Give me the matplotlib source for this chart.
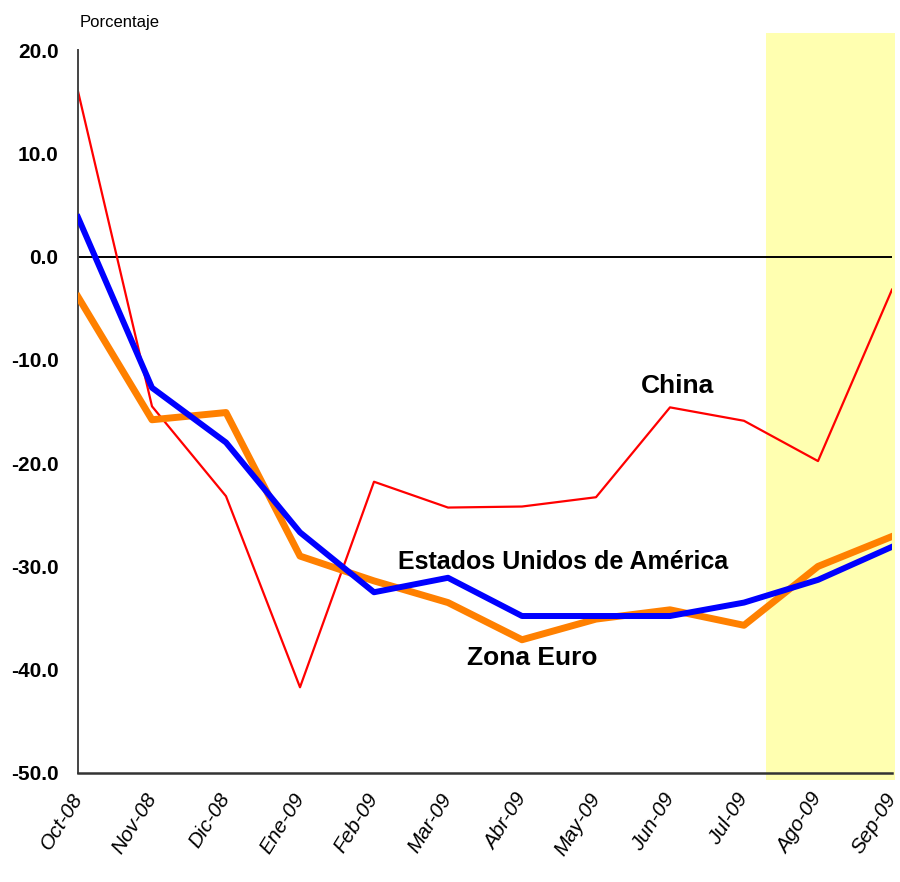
import matplotlib
matplotlib.use("Agg")
import matplotlib.pyplot as plt
from matplotlib.patches import Rectangle
from matplotlib import transforms

months = ["Oct-08", "Nov-08", "Dic-08", "Ene-09", "Feb-09", "Mar-09",
          "Abr-09", "May-09", "Jun-09", "Jul-09", "Ago-09", "Sep-09"]
china = [16.0, -14.5, -23.2, -41.7, -21.8, -24.3, -24.2, -23.3, -14.6, -15.9, -19.8, -3.2]
usa = [3.8, -12.7, -18.0, -26.7, -32.5, -31.1, -34.8, -34.8, -34.8, -33.5, -31.3, -28.1]
euro = [-3.9, -15.8, -15.1, -29.0, -31.4, -33.5, -37.1, -35.1, -34.2, -35.7, -30.0, -27.1]
yticks = [20, 10, 0, -10, -20, -30, -40, -50]

font = "Liberation Sans"

fig = plt.figure(figsize=(9, 8.82), dpi=100)
ax = fig.add_axes([78/900, 1-773/882, (892-78)/900, (773-50)/882])
x = list(range(len(months)))

ax.add_patch(Rectangle((9.3, -50.7), 11.04-9.3, 72.3, facecolor="#FFFFB0",
                       edgecolor="none", clip_on=False, zorder=0))
ax.axhline(0, color="black", lw=1.4, zorder=1)
ax.plot(x, china, color="#FF0000", lw=1.6, zorder=2)
ax.plot(x, euro, color="#FF8000", lw=5.0, zorder=3)
ax.plot(x, usa, color="#0000FF", lw=4.3, zorder=4)

ax.set_xlim(0, 11)
ax.set_ylim(-50, 20)
ax.set_yticks(yticks)
ax.set_yticklabels([f"{v:.1f}" for v in yticks], fontfamily=font,
                   fontweight="bold", fontsize=15)
ax.set_xticks(x)
ax.set_xticklabels(months, rotation=58, ha="right", va="center",
                   rotation_mode="anchor", fontstyle="italic",
                   fontfamily=font, fontsize=15)
offset = transforms.ScaledTranslation(-5/100, 0, fig.dpi_scale_trans)
for lbl in ax.get_xticklabels():
    lbl.set_transform(lbl.get_transform() + offset)
ax.tick_params(axis="both", length=0)
ax.tick_params(axis="y", pad=14)
ax.tick_params(axis="x", pad=16)
for s in ["top", "right"]:
    ax.spines[s].set_visible(False)
ax.spines["left"].set_color("#444444")
ax.spines["left"].set_linewidth(1.4)
ax.spines["bottom"].set_color("#333333")
ax.spines["bottom"].set_linewidth(1.8)
ax.set_facecolor("none")

ax.text(8.1, -12.5, "China", fontfamily=font, fontweight="bold",
        fontsize=19, ha="center", va="center")
ax.text(6.55, -29.6, "Estados Unidos de América", fontfamily=font,
        fontweight="bold", fontsize=18, ha="center", va="center")
ax.text(6.14, -38.9, "Zona Euro", fontfamily=font, fontweight="bold",
        fontsize=19, ha="center", va="center")

fig.text(80/900, 1-22/882, "Porcentaje", fontfamily=font, fontsize=12,
         ha="left", va="center")

fig.savefig("out.png", dpi=100)
